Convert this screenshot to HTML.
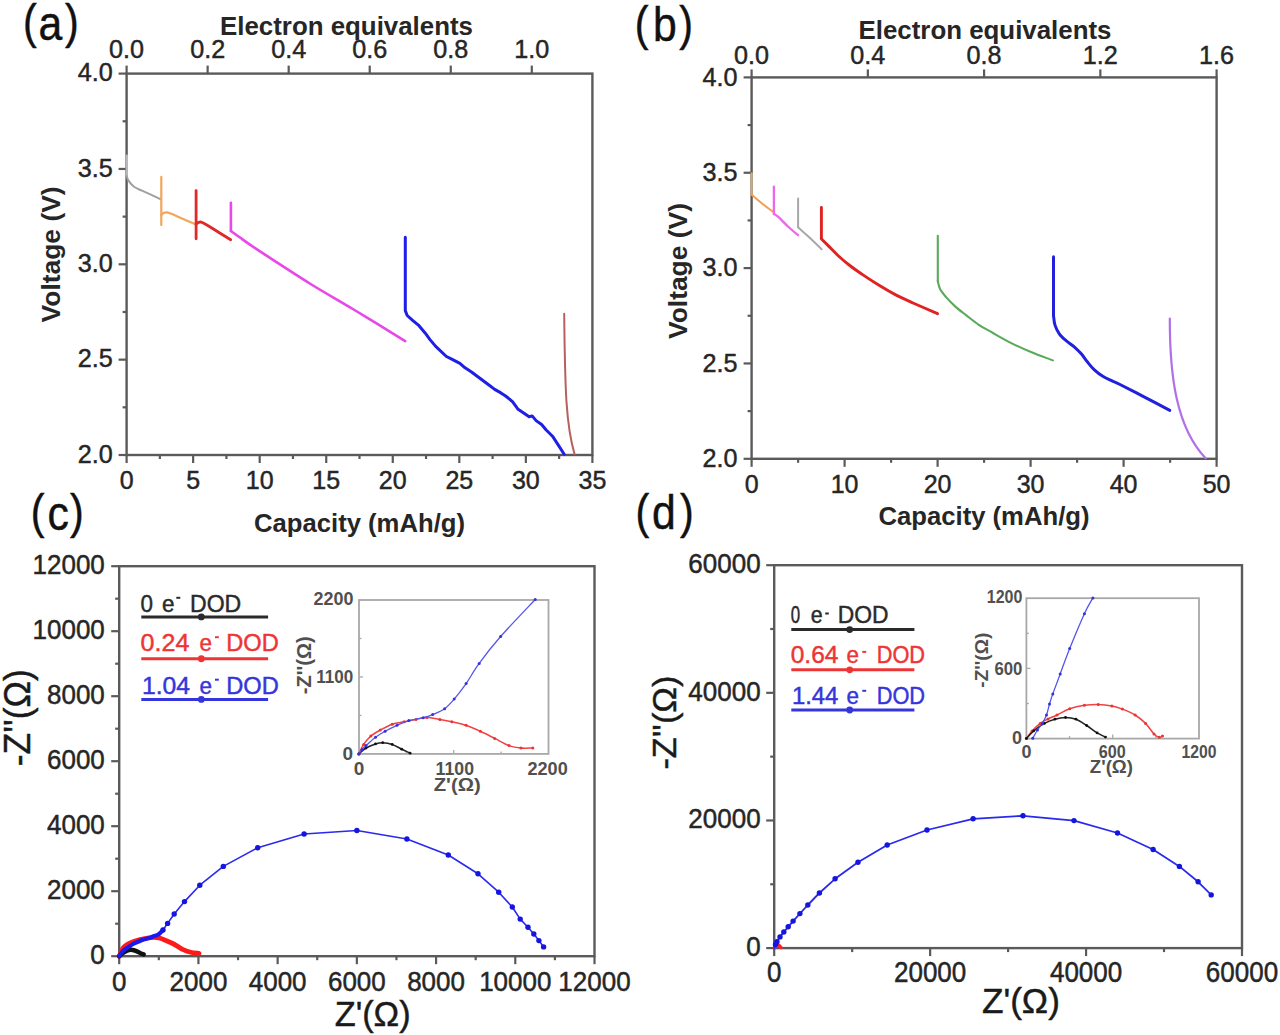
<!DOCTYPE html><html><head><meta charset="utf-8"><title>Figure</title><style>html,body{margin:0;padding:0;background:#fff;overflow:hidden;}svg{display:block;}text{font-family:"Liberation Sans",sans-serif;}</style></head><body>
<svg width="1280" height="1035" viewBox="0 0 1280 1035">
<rect x="0" y="0" width="1280" height="1035" fill="#ffffff"/>
<rect x="126.6" y="73.6" width="465.8" height="381.4" fill="none" stroke="#5a5a5a" stroke-width="2.4"/>
<line x1="118.60" y1="455.00" x2="126.60" y2="455.00" stroke="#5a5a5a" stroke-width="2.2" />
<line x1="122.60" y1="407.32" x2="126.60" y2="407.32" stroke="#5a5a5a" stroke-width="2.2" />
<line x1="118.60" y1="359.65" x2="126.60" y2="359.65" stroke="#5a5a5a" stroke-width="2.2" />
<line x1="122.60" y1="311.98" x2="126.60" y2="311.98" stroke="#5a5a5a" stroke-width="2.2" />
<line x1="118.60" y1="264.30" x2="126.60" y2="264.30" stroke="#5a5a5a" stroke-width="2.2" />
<line x1="122.60" y1="216.62" x2="126.60" y2="216.62" stroke="#5a5a5a" stroke-width="2.2" />
<line x1="118.60" y1="168.95" x2="126.60" y2="168.95" stroke="#5a5a5a" stroke-width="2.2" />
<line x1="122.60" y1="121.28" x2="126.60" y2="121.28" stroke="#5a5a5a" stroke-width="2.2" />
<line x1="118.60" y1="73.60" x2="126.60" y2="73.60" stroke="#5a5a5a" stroke-width="2.2" />
<text x="0" y="0" transform="translate(112.80,81.20)" font-size="25" text-anchor="end" fill="#262626" stroke="#262626" stroke-width="0.45" textLength="35" lengthAdjust="spacingAndGlyphs" >4.0</text>
<text x="0" y="0" transform="translate(112.80,176.55)" font-size="25" text-anchor="end" fill="#262626" stroke="#262626" stroke-width="0.45" textLength="35" lengthAdjust="spacingAndGlyphs" >3.5</text>
<text x="0" y="0" transform="translate(112.80,271.90)" font-size="25" text-anchor="end" fill="#262626" stroke="#262626" stroke-width="0.45" textLength="35" lengthAdjust="spacingAndGlyphs" >3.0</text>
<text x="0" y="0" transform="translate(112.80,367.25)" font-size="25" text-anchor="end" fill="#262626" stroke="#262626" stroke-width="0.45" textLength="35" lengthAdjust="spacingAndGlyphs" >2.5</text>
<text x="0" y="0" transform="translate(112.80,462.60)" font-size="25" text-anchor="end" fill="#262626" stroke="#262626" stroke-width="0.45" textLength="35" lengthAdjust="spacingAndGlyphs" >2.0</text>
<line x1="126.60" y1="455.00" x2="126.60" y2="463.00" stroke="#5a5a5a" stroke-width="2.2" />
<line x1="159.87" y1="455.00" x2="159.87" y2="459.00" stroke="#5a5a5a" stroke-width="2.2" />
<line x1="193.14" y1="455.00" x2="193.14" y2="463.00" stroke="#5a5a5a" stroke-width="2.2" />
<line x1="226.41" y1="455.00" x2="226.41" y2="459.00" stroke="#5a5a5a" stroke-width="2.2" />
<line x1="259.69" y1="455.00" x2="259.69" y2="463.00" stroke="#5a5a5a" stroke-width="2.2" />
<line x1="292.96" y1="455.00" x2="292.96" y2="459.00" stroke="#5a5a5a" stroke-width="2.2" />
<line x1="326.23" y1="455.00" x2="326.23" y2="463.00" stroke="#5a5a5a" stroke-width="2.2" />
<line x1="359.50" y1="455.00" x2="359.50" y2="459.00" stroke="#5a5a5a" stroke-width="2.2" />
<line x1="392.77" y1="455.00" x2="392.77" y2="463.00" stroke="#5a5a5a" stroke-width="2.2" />
<line x1="426.04" y1="455.00" x2="426.04" y2="459.00" stroke="#5a5a5a" stroke-width="2.2" />
<line x1="459.31" y1="455.00" x2="459.31" y2="463.00" stroke="#5a5a5a" stroke-width="2.2" />
<line x1="492.59" y1="455.00" x2="492.59" y2="459.00" stroke="#5a5a5a" stroke-width="2.2" />
<line x1="525.86" y1="455.00" x2="525.86" y2="463.00" stroke="#5a5a5a" stroke-width="2.2" />
<line x1="559.13" y1="455.00" x2="559.13" y2="459.00" stroke="#5a5a5a" stroke-width="2.2" />
<line x1="592.40" y1="455.00" x2="592.40" y2="463.00" stroke="#5a5a5a" stroke-width="2.2" />
<text x="0" y="0" transform="translate(126.60,488.80)" font-size="25" text-anchor="middle" fill="#262626" stroke="#262626" stroke-width="0.45" >0</text>
<text x="0" y="0" transform="translate(193.14,488.80)" font-size="25" text-anchor="middle" fill="#262626" stroke="#262626" stroke-width="0.45" >5</text>
<text x="0" y="0" transform="translate(259.69,488.80)" font-size="25" text-anchor="middle" fill="#262626" stroke="#262626" stroke-width="0.45" >10</text>
<text x="0" y="0" transform="translate(326.23,488.80)" font-size="25" text-anchor="middle" fill="#262626" stroke="#262626" stroke-width="0.45" >15</text>
<text x="0" y="0" transform="translate(392.77,488.80)" font-size="25" text-anchor="middle" fill="#262626" stroke="#262626" stroke-width="0.45" >20</text>
<text x="0" y="0" transform="translate(459.31,488.80)" font-size="25" text-anchor="middle" fill="#262626" stroke="#262626" stroke-width="0.45" >25</text>
<text x="0" y="0" transform="translate(525.86,488.80)" font-size="25" text-anchor="middle" fill="#262626" stroke="#262626" stroke-width="0.45" >30</text>
<text x="0" y="0" transform="translate(592.40,488.80)" font-size="25" text-anchor="middle" fill="#262626" stroke="#262626" stroke-width="0.45" >35</text>
<line x1="126.60" y1="65.60" x2="126.60" y2="73.60" stroke="#5a5a5a" stroke-width="2.2" />
<line x1="207.64" y1="65.60" x2="207.64" y2="73.60" stroke="#5a5a5a" stroke-width="2.2" />
<line x1="288.68" y1="65.60" x2="288.68" y2="73.60" stroke="#5a5a5a" stroke-width="2.2" />
<line x1="369.72" y1="65.60" x2="369.72" y2="73.60" stroke="#5a5a5a" stroke-width="2.2" />
<line x1="450.76" y1="65.60" x2="450.76" y2="73.60" stroke="#5a5a5a" stroke-width="2.2" />
<line x1="531.80" y1="65.60" x2="531.80" y2="73.60" stroke="#5a5a5a" stroke-width="2.2" />
<text x="0" y="0" transform="translate(126.60,57.80)" font-size="25" text-anchor="middle" fill="#262626" stroke="#262626" stroke-width="0.45" textLength="35" lengthAdjust="spacingAndGlyphs" >0.0</text>
<text x="0" y="0" transform="translate(207.64,57.80)" font-size="25" text-anchor="middle" fill="#262626" stroke="#262626" stroke-width="0.45" textLength="35" lengthAdjust="spacingAndGlyphs" >0.2</text>
<text x="0" y="0" transform="translate(288.68,57.80)" font-size="25" text-anchor="middle" fill="#262626" stroke="#262626" stroke-width="0.45" textLength="35" lengthAdjust="spacingAndGlyphs" >0.4</text>
<text x="0" y="0" transform="translate(369.72,57.80)" font-size="25" text-anchor="middle" fill="#262626" stroke="#262626" stroke-width="0.45" textLength="35" lengthAdjust="spacingAndGlyphs" >0.6</text>
<text x="0" y="0" transform="translate(450.76,57.80)" font-size="25" text-anchor="middle" fill="#262626" stroke="#262626" stroke-width="0.45" textLength="35" lengthAdjust="spacingAndGlyphs" >0.8</text>
<text x="0" y="0" transform="translate(531.80,57.80)" font-size="25" text-anchor="middle" fill="#262626" stroke="#262626" stroke-width="0.45" textLength="35" lengthAdjust="spacingAndGlyphs" >1.0</text>
<text x="0" y="0" transform="translate(346.50,34.80)" font-size="25" text-anchor="middle" fill="#262626" font-weight="bold" textLength="253" lengthAdjust="spacingAndGlyphs" >Electron equivalents</text>
<text x="0" y="0" transform="translate(359.50,531.90)" font-size="25" text-anchor="middle" fill="#262626" font-weight="bold" textLength="211" lengthAdjust="spacingAndGlyphs" >Capacity (mAh/g)</text>
<text x="0" y="0" transform="translate(59.80,254.40) rotate(-90)" font-size="26" text-anchor="middle" fill="#262626" font-weight="bold" textLength="136" lengthAdjust="spacingAndGlyphs" >Voltage (V)</text>
<text x="0" y="0" transform="translate(29.85,38.10) scale(0.85,1)" font-size="48.5" text-anchor="middle" fill="#111" stroke="#111" stroke-width="0.45">(</text>
<text x="0" y="0" transform="translate(71.75,38.10) scale(0.85,1)" font-size="48.5" text-anchor="middle" fill="#111" stroke="#111" stroke-width="0.45">)</text>
<text x="0" y="0" transform="translate(50.25,40.10) scale(0.88,1)" font-size="48.5" text-anchor="middle" fill="#111" stroke="#111" stroke-width="0.45">a</text>
<path d="M126.8,155.6 L126.8,176" fill="none" stroke="#b8b8b8" stroke-width="2.4" stroke-linejoin="round" stroke-linecap="round" />
<path d="M126.8,176.0 C127.1,176.8 127.3,178.8 128.5,180.6 C129.7,182.4 131.7,185.0 134.0,186.7 C136.3,188.4 139.2,189.3 142.1,190.7 C145.0,192.0 148.3,193.3 151.5,194.8 C154.7,196.3 159.5,198.8 161.1,199.6" fill="none" stroke="#a0a0a0" stroke-width="2" stroke-linejoin="round" stroke-linecap="round" />
<path d="M161.3,176.9 L161.3,225.1" fill="none" stroke="#f2a65a" stroke-width="2.2" stroke-linejoin="round" stroke-linecap="round" />
<path d="M161.3,215.0 C161.7,214.7 162.6,213.4 163.5,213.0 C164.4,212.6 165.3,212.2 166.7,212.4 C168.1,212.6 169.4,213.0 172.0,214.0 C174.6,215.0 178.2,216.8 182.0,218.5 C185.8,220.2 192.9,223.2 195.1,224.1" fill="none" stroke="#f2a65a" stroke-width="2.2" stroke-linejoin="round" stroke-linecap="round" />
<path d="M196.1,190.6 L196.1,238.8" fill="none" stroke="#e02828" stroke-width="2.8" stroke-linejoin="round" stroke-linecap="round" />
<path d="M196.1,224.0 C196.5,223.7 197.7,222.7 198.5,222.4 C199.3,222.1 199.9,221.8 201.2,222.1 C202.4,222.4 203.7,223.2 206.0,224.5 C208.3,225.8 210.9,227.4 215.0,230.0 C219.1,232.6 228.1,238.2 230.7,239.8" fill="none" stroke="#e02828" stroke-width="2.8" stroke-linejoin="round" stroke-linecap="round" />
<path d="M230.9,202.8 L230.9,231" fill="none" stroke="#e848e8" stroke-width="2.6" stroke-linejoin="round" stroke-linecap="round" />
<path d="M230.9,231.0 C232.4,232.1 237.1,235.4 240.0,237.5 C242.9,239.6 243.6,240.3 248.1,243.4 C252.6,246.5 256.5,249.1 266.9,255.9 C277.3,262.7 296.3,275.1 310.6,284.0 C324.9,292.9 337.0,299.5 352.8,309.0 C368.6,318.5 396.5,335.8 405.2,341.1" fill="none" stroke="#e848e8" stroke-width="2.6" stroke-linejoin="round" stroke-linecap="round" />
<polyline points="405.3,237.2 405.3,310.6 407.2,315.5 412.6,320.3 418.4,325.1 425.1,332.9 430.0,339.6 435.7,346.4 446.4,356.5 452.2,359.4 459.9,363.3 464.7,367.6 471.5,372.0 479.2,377.8 488.9,385.0 494.7,389.4 500.9,392.9 505.6,396.0 509.5,399.1 512.7,401.9 518.1,409.3 524.4,413.6 529.1,416.7 532.2,415.9 536.1,420.6 541.6,424.5 546.2,430.0 552.5,436.2 557.2,443.3 564.2,454.2" fill="none" stroke="#1e1ee6" stroke-width="3" stroke-linejoin="round" stroke-linecap="round" />
<path d="M564.2,313.8 C565.0,390 566.0,425 574.6,454.2" fill="none" stroke="#b86060" stroke-width="2" stroke-linejoin="round" stroke-linecap="round" />
<rect x="751.6" y="77.4" width="465.0" height="381.4" fill="none" stroke="#5a5a5a" stroke-width="2.4"/>
<line x1="743.60" y1="458.80" x2="751.60" y2="458.80" stroke="#5a5a5a" stroke-width="2.2" />
<line x1="747.60" y1="411.12" x2="751.60" y2="411.12" stroke="#5a5a5a" stroke-width="2.2" />
<line x1="743.60" y1="363.45" x2="751.60" y2="363.45" stroke="#5a5a5a" stroke-width="2.2" />
<line x1="747.60" y1="315.78" x2="751.60" y2="315.78" stroke="#5a5a5a" stroke-width="2.2" />
<line x1="743.60" y1="268.10" x2="751.60" y2="268.10" stroke="#5a5a5a" stroke-width="2.2" />
<line x1="747.60" y1="220.43" x2="751.60" y2="220.43" stroke="#5a5a5a" stroke-width="2.2" />
<line x1="743.60" y1="172.75" x2="751.60" y2="172.75" stroke="#5a5a5a" stroke-width="2.2" />
<line x1="747.60" y1="125.08" x2="751.60" y2="125.08" stroke="#5a5a5a" stroke-width="2.2" />
<line x1="743.60" y1="77.40" x2="751.60" y2="77.40" stroke="#5a5a5a" stroke-width="2.2" />
<text x="0" y="0" transform="translate(737.50,85.60)" font-size="25" text-anchor="end" fill="#262626" stroke="#262626" stroke-width="0.45" textLength="35" lengthAdjust="spacingAndGlyphs" >4.0</text>
<text x="0" y="0" transform="translate(737.50,180.95)" font-size="25" text-anchor="end" fill="#262626" stroke="#262626" stroke-width="0.45" textLength="35" lengthAdjust="spacingAndGlyphs" >3.5</text>
<text x="0" y="0" transform="translate(737.50,276.30)" font-size="25" text-anchor="end" fill="#262626" stroke="#262626" stroke-width="0.45" textLength="35" lengthAdjust="spacingAndGlyphs" >3.0</text>
<text x="0" y="0" transform="translate(737.50,371.65)" font-size="25" text-anchor="end" fill="#262626" stroke="#262626" stroke-width="0.45" textLength="35" lengthAdjust="spacingAndGlyphs" >2.5</text>
<text x="0" y="0" transform="translate(737.50,467.00)" font-size="25" text-anchor="end" fill="#262626" stroke="#262626" stroke-width="0.45" textLength="35" lengthAdjust="spacingAndGlyphs" >2.0</text>
<line x1="751.60" y1="458.80" x2="751.60" y2="466.80" stroke="#5a5a5a" stroke-width="2.2" />
<line x1="798.10" y1="458.80" x2="798.10" y2="462.80" stroke="#5a5a5a" stroke-width="2.2" />
<line x1="844.60" y1="458.80" x2="844.60" y2="466.80" stroke="#5a5a5a" stroke-width="2.2" />
<line x1="891.10" y1="458.80" x2="891.10" y2="462.80" stroke="#5a5a5a" stroke-width="2.2" />
<line x1="937.60" y1="458.80" x2="937.60" y2="466.80" stroke="#5a5a5a" stroke-width="2.2" />
<line x1="984.10" y1="458.80" x2="984.10" y2="462.80" stroke="#5a5a5a" stroke-width="2.2" />
<line x1="1030.60" y1="458.80" x2="1030.60" y2="466.80" stroke="#5a5a5a" stroke-width="2.2" />
<line x1="1077.10" y1="458.80" x2="1077.10" y2="462.80" stroke="#5a5a5a" stroke-width="2.2" />
<line x1="1123.60" y1="458.80" x2="1123.60" y2="466.80" stroke="#5a5a5a" stroke-width="2.2" />
<line x1="1170.10" y1="458.80" x2="1170.10" y2="462.80" stroke="#5a5a5a" stroke-width="2.2" />
<line x1="1216.60" y1="458.80" x2="1216.60" y2="466.80" stroke="#5a5a5a" stroke-width="2.2" />
<text x="0" y="0" transform="translate(751.60,492.50)" font-size="25" text-anchor="middle" fill="#262626" stroke="#262626" stroke-width="0.45" >0</text>
<text x="0" y="0" transform="translate(844.60,492.50)" font-size="25" text-anchor="middle" fill="#262626" stroke="#262626" stroke-width="0.45" >10</text>
<text x="0" y="0" transform="translate(937.60,492.50)" font-size="25" text-anchor="middle" fill="#262626" stroke="#262626" stroke-width="0.45" >20</text>
<text x="0" y="0" transform="translate(1030.60,492.50)" font-size="25" text-anchor="middle" fill="#262626" stroke="#262626" stroke-width="0.45" >30</text>
<text x="0" y="0" transform="translate(1123.60,492.50)" font-size="25" text-anchor="middle" fill="#262626" stroke="#262626" stroke-width="0.45" >40</text>
<text x="0" y="0" transform="translate(1216.60,492.50)" font-size="25" text-anchor="middle" fill="#262626" stroke="#262626" stroke-width="0.45" >50</text>
<line x1="751.60" y1="69.40" x2="751.60" y2="77.40" stroke="#5a5a5a" stroke-width="2.2" />
<line x1="867.85" y1="69.40" x2="867.85" y2="77.40" stroke="#5a5a5a" stroke-width="2.2" />
<line x1="984.10" y1="69.40" x2="984.10" y2="77.40" stroke="#5a5a5a" stroke-width="2.2" />
<line x1="1100.35" y1="69.40" x2="1100.35" y2="77.40" stroke="#5a5a5a" stroke-width="2.2" />
<line x1="1216.60" y1="69.40" x2="1216.60" y2="77.40" stroke="#5a5a5a" stroke-width="2.2" />
<text x="0" y="0" transform="translate(751.60,63.50)" font-size="25" text-anchor="middle" fill="#262626" stroke="#262626" stroke-width="0.45" textLength="35" lengthAdjust="spacingAndGlyphs" >0.0</text>
<text x="0" y="0" transform="translate(867.85,63.50)" font-size="25" text-anchor="middle" fill="#262626" stroke="#262626" stroke-width="0.45" textLength="35" lengthAdjust="spacingAndGlyphs" >0.4</text>
<text x="0" y="0" transform="translate(984.10,63.50)" font-size="25" text-anchor="middle" fill="#262626" stroke="#262626" stroke-width="0.45" textLength="35" lengthAdjust="spacingAndGlyphs" >0.8</text>
<text x="0" y="0" transform="translate(1100.35,63.50)" font-size="25" text-anchor="middle" fill="#262626" stroke="#262626" stroke-width="0.45" textLength="35" lengthAdjust="spacingAndGlyphs" >1.2</text>
<text x="0" y="0" transform="translate(1216.60,63.50)" font-size="25" text-anchor="middle" fill="#262626" stroke="#262626" stroke-width="0.45" textLength="35" lengthAdjust="spacingAndGlyphs" >1.6</text>
<text x="0" y="0" transform="translate(985.00,38.50)" font-size="25" text-anchor="middle" fill="#262626" font-weight="bold" textLength="253" lengthAdjust="spacingAndGlyphs" >Electron equivalents</text>
<text x="0" y="0" transform="translate(984.00,524.50)" font-size="25" text-anchor="middle" fill="#262626" font-weight="bold" textLength="211" lengthAdjust="spacingAndGlyphs" >Capacity (mAh/g)</text>
<text x="0" y="0" transform="translate(687.20,271.00) rotate(-90)" font-size="26" text-anchor="middle" fill="#262626" font-weight="bold" textLength="136" lengthAdjust="spacingAndGlyphs" >Voltage (V)</text>
<text x="0" y="0" transform="translate(641.70,40.40) scale(0.85,1)" font-size="48.5" text-anchor="middle" fill="#111" stroke="#111" stroke-width="0.45">(</text>
<text x="0" y="0" transform="translate(686.20,40.40) scale(0.85,1)" font-size="48.5" text-anchor="middle" fill="#111" stroke="#111" stroke-width="0.45">)</text>
<text x="0" y="0" transform="translate(664.95,41.40) scale(0.88,1)" font-size="48.5" text-anchor="middle" fill="#111" stroke="#111" stroke-width="0.45">b</text>
<path d="M751.6,173.4 L751.6,194.5" fill="none" stroke="#c8ab88" stroke-width="2.4" stroke-linejoin="round" stroke-linecap="round" />
<path d="M751.6,194.5 C753.3,196.0 758.3,200.5 762.0,203.5 C765.7,206.5 771.9,211.0 773.9,212.5" fill="none" stroke="#f0a050" stroke-width="2" stroke-linejoin="round" stroke-linecap="round" />
<path d="M773.9,186.7 L773.9,214" fill="none" stroke="#ee66ee" stroke-width="2.3" stroke-linejoin="round" stroke-linecap="round" />
<path d="M773.9,214.0 C774.7,214.5 776.2,215.1 778.6,217.2 C781.0,219.3 784.8,223.5 788.0,226.5 C791.2,229.5 796.4,233.8 798.1,235.2" fill="none" stroke="#ee66ee" stroke-width="2.3" stroke-linejoin="round" stroke-linecap="round" />
<path d="M798.1,198.4 L798.1,227.3" fill="none" stroke="#a8a8a8" stroke-width="2" stroke-linejoin="round" stroke-linecap="round" />
<path d="M798.1,227.3 C800.1,229.1 806.1,234.3 810.0,238.0 C813.9,241.7 819.7,247.3 821.6,249.2" fill="none" stroke="#a8a8a8" stroke-width="2" stroke-linejoin="round" stroke-linecap="round" />
<path d="M821.4,207.5 L821.4,238.5" fill="none" stroke="#e02222" stroke-width="2.9" stroke-linejoin="round" stroke-linecap="round" />
<path d="M821.4,238.5 C821.6,238.8 821.2,238.7 822.5,240.0 C823.8,241.3 826.3,243.8 828.9,246.4 C831.5,249.0 834.7,252.5 838.2,255.7 C841.7,258.9 845.5,262.2 849.8,265.5 C854.0,268.8 858.7,272.0 863.7,275.4 C868.7,278.8 874.5,282.5 879.9,285.8 C885.3,289.1 890.6,292.2 896.2,295.1 C901.8,298.0 906.7,300.1 913.6,303.2 C920.5,306.3 933.5,311.9 937.5,313.7" fill="none" stroke="#e02222" stroke-width="2.9" stroke-linejoin="round" stroke-linecap="round" />
<path d="M937.8,235.8 L937.8,281.2" fill="none" stroke="#5aaa5a" stroke-width="2.1" stroke-linejoin="round" stroke-linecap="round" />
<path d="M937.8,281.2 C938.2,282.6 938.8,286.6 940.2,289.3 C941.6,292.0 943.8,294.5 946.3,297.4 C948.8,300.3 952.2,303.7 955.4,306.6 C958.6,309.5 961.6,311.7 965.5,314.7 C969.4,317.7 974.2,321.8 978.8,324.8 C983.4,327.9 987.6,329.9 993.0,333.0 C998.4,336.1 1004.9,339.9 1011.3,343.1 C1017.7,346.3 1024.7,349.4 1031.6,352.3 C1038.5,355.2 1049.4,359.0 1052.9,360.4" fill="none" stroke="#5aaa5a" stroke-width="2.1" stroke-linejoin="round" stroke-linecap="round" />
<path d="M1053.5,256.7 L1053.5,315.5" fill="none" stroke="#2020dd" stroke-width="3" stroke-linejoin="round" stroke-linecap="round" />
<path d="M1053.5,315.5 C1053.8,317.1 1054.0,322.1 1055.0,325.1 C1056.0,328.2 1057.5,331.2 1059.3,333.8 C1061.1,336.4 1063.5,338.4 1066.1,340.6 C1068.7,342.9 1072.2,345.1 1074.8,347.3 C1077.4,349.6 1079.4,351.7 1081.5,354.1 C1083.6,356.5 1085.2,359.2 1087.3,361.8 C1089.4,364.4 1091.5,367.2 1094.1,369.6 C1096.7,372.0 1099.7,374.4 1102.8,376.3 C1105.9,378.2 1109.6,379.8 1112.5,381.2 C1115.4,382.6 1114.6,381.8 1120.0,384.5 C1125.4,387.2 1136.7,393.0 1145.0,397.3 C1153.3,401.6 1165.7,408.2 1169.8,410.4" fill="none" stroke="#2020dd" stroke-width="3" stroke-linejoin="round" stroke-linecap="round" />
<path d="M1169.8,318.5 C1169.7,376.5 1176.4,427.5 1205.6,458.3" fill="none" stroke="#b070e8" stroke-width="2.2" stroke-linejoin="round" stroke-linecap="round" />
<rect x="119.2" y="566.2" width="475.3" height="390.0" fill="none" stroke="#5a5a5a" stroke-width="2.4"/>
<line x1="111.20" y1="956.20" x2="119.20" y2="956.20" stroke="#5a5a5a" stroke-width="2.2" />
<line x1="119.20" y1="956.20" x2="119.20" y2="964.20" stroke="#5a5a5a" stroke-width="2.2" />
<line x1="115.20" y1="923.70" x2="119.20" y2="923.70" stroke="#5a5a5a" stroke-width="2.2" />
<line x1="158.81" y1="956.20" x2="158.81" y2="960.20" stroke="#5a5a5a" stroke-width="2.2" />
<line x1="111.20" y1="891.20" x2="119.20" y2="891.20" stroke="#5a5a5a" stroke-width="2.2" />
<line x1="198.42" y1="956.20" x2="198.42" y2="964.20" stroke="#5a5a5a" stroke-width="2.2" />
<line x1="115.20" y1="858.70" x2="119.20" y2="858.70" stroke="#5a5a5a" stroke-width="2.2" />
<line x1="238.03" y1="956.20" x2="238.03" y2="960.20" stroke="#5a5a5a" stroke-width="2.2" />
<line x1="111.20" y1="826.20" x2="119.20" y2="826.20" stroke="#5a5a5a" stroke-width="2.2" />
<line x1="277.63" y1="956.20" x2="277.63" y2="964.20" stroke="#5a5a5a" stroke-width="2.2" />
<line x1="115.20" y1="793.70" x2="119.20" y2="793.70" stroke="#5a5a5a" stroke-width="2.2" />
<line x1="317.24" y1="956.20" x2="317.24" y2="960.20" stroke="#5a5a5a" stroke-width="2.2" />
<line x1="111.20" y1="761.20" x2="119.20" y2="761.20" stroke="#5a5a5a" stroke-width="2.2" />
<line x1="356.85" y1="956.20" x2="356.85" y2="964.20" stroke="#5a5a5a" stroke-width="2.2" />
<line x1="115.20" y1="728.70" x2="119.20" y2="728.70" stroke="#5a5a5a" stroke-width="2.2" />
<line x1="396.46" y1="956.20" x2="396.46" y2="960.20" stroke="#5a5a5a" stroke-width="2.2" />
<line x1="111.20" y1="696.20" x2="119.20" y2="696.20" stroke="#5a5a5a" stroke-width="2.2" />
<line x1="436.07" y1="956.20" x2="436.07" y2="964.20" stroke="#5a5a5a" stroke-width="2.2" />
<line x1="115.20" y1="663.70" x2="119.20" y2="663.70" stroke="#5a5a5a" stroke-width="2.2" />
<line x1="475.68" y1="956.20" x2="475.68" y2="960.20" stroke="#5a5a5a" stroke-width="2.2" />
<line x1="111.20" y1="631.20" x2="119.20" y2="631.20" stroke="#5a5a5a" stroke-width="2.2" />
<line x1="515.28" y1="956.20" x2="515.28" y2="964.20" stroke="#5a5a5a" stroke-width="2.2" />
<line x1="115.20" y1="598.70" x2="119.20" y2="598.70" stroke="#5a5a5a" stroke-width="2.2" />
<line x1="554.89" y1="956.20" x2="554.89" y2="960.20" stroke="#5a5a5a" stroke-width="2.2" />
<line x1="111.20" y1="566.20" x2="119.20" y2="566.20" stroke="#5a5a5a" stroke-width="2.2" />
<line x1="594.50" y1="956.20" x2="594.50" y2="964.20" stroke="#5a5a5a" stroke-width="2.2" />
<text x="0" y="0" transform="translate(104.80,964.20) scale(1,1.08)" font-size="26" text-anchor="end" fill="#262626" stroke="#262626" stroke-width="0.45" >0</text>
<text x="0" y="0" transform="translate(119.20,990.80) scale(1,1.08)" font-size="26" text-anchor="middle" fill="#262626" stroke="#262626" stroke-width="0.45" >0</text>
<text x="0" y="0" transform="translate(104.80,899.20) scale(1,1.08)" font-size="26" text-anchor="end" fill="#262626" stroke="#262626" stroke-width="0.45" >2000</text>
<text x="0" y="0" transform="translate(198.42,990.80) scale(1,1.08)" font-size="26" text-anchor="middle" fill="#262626" stroke="#262626" stroke-width="0.45" >2000</text>
<text x="0" y="0" transform="translate(104.80,834.20) scale(1,1.08)" font-size="26" text-anchor="end" fill="#262626" stroke="#262626" stroke-width="0.45" >4000</text>
<text x="0" y="0" transform="translate(277.63,990.80) scale(1,1.08)" font-size="26" text-anchor="middle" fill="#262626" stroke="#262626" stroke-width="0.45" >4000</text>
<text x="0" y="0" transform="translate(104.80,769.20) scale(1,1.08)" font-size="26" text-anchor="end" fill="#262626" stroke="#262626" stroke-width="0.45" >6000</text>
<text x="0" y="0" transform="translate(356.85,990.80) scale(1,1.08)" font-size="26" text-anchor="middle" fill="#262626" stroke="#262626" stroke-width="0.45" >6000</text>
<text x="0" y="0" transform="translate(104.80,704.20) scale(1,1.08)" font-size="26" text-anchor="end" fill="#262626" stroke="#262626" stroke-width="0.45" >8000</text>
<text x="0" y="0" transform="translate(436.07,990.80) scale(1,1.08)" font-size="26" text-anchor="middle" fill="#262626" stroke="#262626" stroke-width="0.45" >8000</text>
<text x="0" y="0" transform="translate(104.80,639.20) scale(1,1.08)" font-size="26" text-anchor="end" fill="#262626" stroke="#262626" stroke-width="0.45" >10000</text>
<text x="0" y="0" transform="translate(515.28,990.80) scale(1,1.08)" font-size="26" text-anchor="middle" fill="#262626" stroke="#262626" stroke-width="0.45" >10000</text>
<text x="0" y="0" transform="translate(104.80,574.20) scale(1,1.08)" font-size="26" text-anchor="end" fill="#262626" stroke="#262626" stroke-width="0.45" >12000</text>
<text x="0" y="0" transform="translate(594.50,990.80) scale(1,1.08)" font-size="26" text-anchor="middle" fill="#262626" stroke="#262626" stroke-width="0.45" >12000</text>
<text x="0" y="0" transform="translate(372.70,1025.60)" font-size="35" text-anchor="middle" fill="#1a1a1a" stroke="#1a1a1a" stroke-width="0.45" textLength="76" lengthAdjust="spacingAndGlyphs" >Z'(Ω)</text>
<text x="0" y="0" transform="translate(29.80,717.70) rotate(-90)" font-size="36" text-anchor="middle" fill="#1a1a1a" stroke="#1a1a1a" stroke-width="0.45" textLength="97" lengthAdjust="spacingAndGlyphs" >-Z''(Ω)</text>
<text x="0" y="0" transform="translate(37.70,528.20) scale(0.85,1)" font-size="48.5" text-anchor="middle" fill="#111" stroke="#111" stroke-width="0.45">(</text>
<text x="0" y="0" transform="translate(76.80,528.20) scale(0.85,1)" font-size="48.5" text-anchor="middle" fill="#111" stroke="#111" stroke-width="0.45">)</text>
<text x="0" y="0" transform="translate(58.25,530.00) scale(0.88,1)" font-size="48.5" text-anchor="middle" fill="#111" stroke="#111" stroke-width="0.45">c</text>
<text x="0" y="0" transform="translate(140.60,611.90)" font-size="24" text-anchor="start" fill="#2a2a2a" stroke="#2a2a2a" stroke-width="0.45" textLength="12.5" lengthAdjust="spacingAndGlyphs" >0</text>
<text x="0" y="0" transform="translate(161.90,611.90)" font-size="24" text-anchor="start" fill="#2a2a2a" stroke="#2a2a2a" stroke-width="0.45" textLength="12.5" lengthAdjust="spacingAndGlyphs" >e</text>
<line x1="176.30" y1="597.80" x2="180.30" y2="597.80" stroke="#2a2a2a" stroke-width="2.0" />
<text x="0" y="0" transform="translate(190.00,611.90)" font-size="24" text-anchor="start" fill="#2a2a2a" stroke="#2a2a2a" stroke-width="0.45" textLength="51.2" lengthAdjust="spacingAndGlyphs" >DOD</text>
<line x1="141.30" y1="616.90" x2="268.10" y2="616.90" stroke="#2a2a2a" stroke-width="3" />
<circle cx="201.3" cy="616.9" r="3.4" fill="#2a2a2a"/>
<text x="0" y="0" transform="translate(140.60,651.25)" font-size="24" text-anchor="start" fill="#ee3535" stroke="#ee3535" stroke-width="0.45" textLength="48.8" lengthAdjust="spacingAndGlyphs" >0.24</text>
<text x="0" y="0" transform="translate(199.40,651.25)" font-size="24" text-anchor="start" fill="#ee3535" stroke="#ee3535" stroke-width="0.45" textLength="12.5" lengthAdjust="spacingAndGlyphs" >e</text>
<line x1="215.00" y1="637.20" x2="218.80" y2="637.20" stroke="#ee3535" stroke-width="2.0" />
<text x="0" y="0" transform="translate(226.25,651.25)" font-size="24" text-anchor="start" fill="#ee3535" stroke="#ee3535" stroke-width="0.45" textLength="52.5" lengthAdjust="spacingAndGlyphs" >DOD</text>
<line x1="141.30" y1="658.75" x2="268.10" y2="658.75" stroke="#ee3535" stroke-width="3" />
<circle cx="201.3" cy="658.75" r="3.4" fill="#ee3535"/>
<text x="0" y="0" transform="translate(141.90,693.75)" font-size="24" text-anchor="start" fill="#3535dd" stroke="#3535dd" stroke-width="0.45" textLength="48.1" lengthAdjust="spacingAndGlyphs" >1.04</text>
<text x="0" y="0" transform="translate(199.40,693.75)" font-size="24" text-anchor="start" fill="#3535dd" stroke="#3535dd" stroke-width="0.45" textLength="12.5" lengthAdjust="spacingAndGlyphs" >e</text>
<line x1="215.00" y1="679.70" x2="218.80" y2="679.70" stroke="#3535dd" stroke-width="2.0" />
<text x="0" y="0" transform="translate(226.25,693.75)" font-size="24" text-anchor="start" fill="#3535dd" stroke="#3535dd" stroke-width="0.45" textLength="52.5" lengthAdjust="spacingAndGlyphs" >DOD</text>
<line x1="141.30" y1="699.40" x2="268.10" y2="699.40" stroke="#3535dd" stroke-width="3" />
<circle cx="201.3" cy="699.4" r="3.4" fill="#3535dd"/>
<path d="M119.2,956.2 C120.0,954.7 121.5,949.4 124.0,946.9 C126.5,944.4 130.5,942.7 134.4,941.2 C138.3,939.7 143.8,938.6 147.5,938.0 C151.2,937.4 154.2,937.3 156.9,937.5 C159.6,937.7 160.6,938.3 163.4,939.4 C166.2,940.5 170.4,942.3 173.7,944.0 C177.0,945.7 180.1,948.3 183.1,949.7 C186.1,951.1 188.8,951.9 191.5,952.5 C194.2,953.1 197.8,953.2 199.0,953.4" fill="none" stroke="#ff1a1a" stroke-width="4.8" stroke-linejoin="round" stroke-linecap="round" />
<path d="M119.2,956.2 C120.0,955.5 122.2,953.2 124.0,952.2 C125.8,951.2 128.2,950.2 130.0,949.9 C131.8,949.6 133.3,950.1 135.0,950.6 C136.7,951.1 138.6,952.4 140.0,953.0 C141.4,953.6 143.1,954.2 143.7,954.4" fill="none" stroke="#111111" stroke-width="4.5" stroke-linejoin="round" stroke-linecap="round" />
<path d="M119.2,956.2 C119.8,955.3 121.4,952.5 123.0,951.0 C124.6,949.5 127.0,948.1 128.7,946.9 C130.4,945.7 131.4,944.9 133.0,944.0 C134.6,943.1 136.4,942.4 138.1,941.7 C139.8,941.0 141.1,940.3 143.0,939.7 C144.9,939.1 147.7,938.5 149.4,938.0 C151.1,937.5 151.6,937.0 153.0,936.5 C154.4,936.0 156.6,935.4 157.8,934.7 C159.1,934.1 159.6,933.4 160.5,932.6 C161.4,931.8 162.6,930.4 163.0,930.0" fill="none" stroke="#1a1aee" stroke-width="4.2" stroke-linejoin="round" stroke-linecap="round" />
<polyline points="163.0,930.0 167.6,923.4 174.2,914.0 184.5,901.6 199.8,885.2 223.3,866.4 257.7,847.7 304.1,834.0 356.9,830.5 406.9,839.0 448.3,855.0 478.0,873.8 498.7,892.2 512.3,907.0 520.2,919.1 528.0,927.3 533.8,934.0 538.9,940.6 543.6,946.9" fill="none" stroke="#2a2aee" stroke-width="1.6" stroke-linejoin="round" stroke-linecap="round" />
<g fill="#1515e0"><circle cx="163.0" cy="930.0" r="2.7"/><circle cx="167.6" cy="923.4" r="2.7"/><circle cx="174.2" cy="914.0" r="2.7"/><circle cx="184.5" cy="901.6" r="2.7"/><circle cx="199.8" cy="885.2" r="2.7"/><circle cx="223.3" cy="866.4" r="2.7"/><circle cx="257.7" cy="847.7" r="2.7"/><circle cx="304.1" cy="834.0" r="2.7"/><circle cx="356.9" cy="830.5" r="2.7"/><circle cx="406.9" cy="839.0" r="2.7"/><circle cx="448.3" cy="855.0" r="2.7"/><circle cx="478.0" cy="873.8" r="2.7"/><circle cx="498.7" cy="892.2" r="2.7"/><circle cx="512.3" cy="907.0" r="2.7"/><circle cx="520.2" cy="919.1" r="2.7"/><circle cx="528.0" cy="927.3" r="2.7"/><circle cx="533.8" cy="934.0" r="2.7"/><circle cx="538.9" cy="940.6" r="2.7"/><circle cx="543.6" cy="946.9" r="2.7"/></g>
<rect x="359.0" y="600.0" width="189.5" height="153.9" fill="none" stroke="#a8a8a8" stroke-width="1.8"/>
<line x1="359.00" y1="715.42" x2="361.50" y2="715.42" stroke="#a8a8a8" stroke-width="1.3" />
<line x1="406.38" y1="753.90" x2="406.38" y2="751.40" stroke="#a8a8a8" stroke-width="1.3" />
<line x1="359.00" y1="676.95" x2="363.00" y2="676.95" stroke="#a8a8a8" stroke-width="1.3" />
<line x1="453.75" y1="753.90" x2="453.75" y2="749.90" stroke="#a8a8a8" stroke-width="1.3" />
<line x1="359.00" y1="638.48" x2="361.50" y2="638.48" stroke="#a8a8a8" stroke-width="1.3" />
<line x1="501.12" y1="753.90" x2="501.12" y2="751.40" stroke="#a8a8a8" stroke-width="1.3" />
<text x="0" y="0" transform="translate(353.40,605.30)" font-size="19" text-anchor="end" fill="#505050" font-weight="bold" textLength="40" lengthAdjust="spacingAndGlyphs" >2200</text>
<text x="0" y="0" transform="translate(353.20,682.60)" font-size="19" text-anchor="end" fill="#505050" font-weight="bold" textLength="37" lengthAdjust="spacingAndGlyphs" >1100</text>
<text x="0" y="0" transform="translate(353.20,759.80)" font-size="19" text-anchor="end" fill="#505050" font-weight="bold" >0</text>
<text x="0" y="0" transform="translate(359.00,774.60)" font-size="19" text-anchor="middle" fill="#505050" font-weight="bold" >0</text>
<text x="0" y="0" transform="translate(454.80,775.30)" font-size="19" text-anchor="middle" fill="#505050" font-weight="bold" textLength="38.4" lengthAdjust="spacingAndGlyphs" >1100</text>
<text x="0" y="0" transform="translate(547.60,775.30)" font-size="19" text-anchor="middle" fill="#505050" font-weight="bold" textLength="40.3" lengthAdjust="spacingAndGlyphs" >2200</text>
<text x="0" y="0" transform="translate(457.20,791.30)" font-size="19" text-anchor="middle" fill="#505050" font-weight="bold" textLength="47" lengthAdjust="spacingAndGlyphs" >Z'(Ω)</text>
<text x="0" y="0" transform="translate(310.80,665.20) rotate(-90)" font-size="20" text-anchor="middle" fill="#505050" font-weight="bold" textLength="58" lengthAdjust="spacingAndGlyphs" >-Z''(Ω)</text>
<path d="M358.9,753.9 C359.7,752.3 361.6,747.4 363.6,744.4 C365.6,741.4 368.0,738.5 370.8,736.1 C373.6,733.7 376.7,732.1 380.3,730.1 C383.9,728.1 388.2,725.6 392.2,724.2 C396.2,722.8 400.1,722.6 404.1,721.8 C408.1,721.0 412.2,720.1 416.0,719.4 C419.8,718.7 422.8,717.5 426.8,717.5 C430.8,717.5 435.7,718.7 439.9,719.4 C444.1,720.1 447.4,720.8 451.8,721.8 C456.2,722.8 461.3,723.7 466.1,725.3 C470.9,726.9 475.6,729.1 480.4,731.3 C485.2,733.5 489.9,736.0 494.7,738.4 C499.5,740.8 504.6,744.0 509.0,745.6 C513.4,747.2 516.9,747.6 520.9,748.0 C524.9,748.4 530.8,748.0 532.8,748.0" fill="none" stroke="#ee4444" stroke-width="1.5" stroke-linejoin="round" stroke-linecap="round" />
<g fill="#ee3333"><circle cx="358.9" cy="753.9" r="1.5"/><circle cx="363.6" cy="744.4" r="1.5"/><circle cx="370.8" cy="736.1" r="1.5"/><circle cx="380.3" cy="730.1" r="1.5"/><circle cx="392.2" cy="724.2" r="1.5"/><circle cx="404.1" cy="721.8" r="1.5"/><circle cx="416.0" cy="719.4" r="1.5"/><circle cx="426.8" cy="717.5" r="1.5"/><circle cx="439.9" cy="719.4" r="1.5"/><circle cx="451.8" cy="721.8" r="1.5"/><circle cx="466.1" cy="725.3" r="1.5"/><circle cx="480.4" cy="731.3" r="1.5"/><circle cx="494.7" cy="738.4" r="1.5"/><circle cx="509.0" cy="745.6" r="1.5"/><circle cx="520.9" cy="748.0" r="1.5"/><circle cx="532.8" cy="748.0" r="1.5"/></g>
<path d="M358.9,753.9 C360.1,752.9 363.2,749.7 366.0,748.0 C368.8,746.3 372.7,744.8 375.5,743.9 C378.3,743.0 379.9,742.6 382.7,742.7 C385.5,742.8 389.0,743.3 392.2,744.4 C395.4,745.5 398.7,747.7 401.7,749.2 C404.7,750.7 408.7,752.5 410.1,753.2" fill="none" stroke="#222" stroke-width="1.6" stroke-linejoin="round" stroke-linecap="round" />
<g fill="#111"><circle cx="358.9" cy="753.9" r="1.4"/><circle cx="366.0" cy="748.0" r="1.4"/><circle cx="375.5" cy="743.9" r="1.4"/><circle cx="382.7" cy="742.7" r="1.4"/><circle cx="392.2" cy="744.4" r="1.4"/><circle cx="401.7" cy="749.2" r="1.4"/><circle cx="410.1" cy="753.2" r="1.4"/></g>
<path d="M358.9,753.9 C359.4,753.2 360.8,750.9 362.0,749.5 C363.2,748.1 363.8,747.6 366.0,745.6 C368.2,743.6 372.3,739.6 375.5,737.2 C378.7,734.8 381.5,733.3 385.1,731.3 C388.7,729.3 393.0,727.1 397.0,725.3 C401.0,723.5 404.5,721.9 408.9,720.6 C413.3,719.3 419.2,718.7 423.2,717.7 C427.2,716.7 429.1,716.1 432.7,714.6 C436.3,713.1 441.0,711.3 444.6,708.7 C448.2,706.1 450.6,703.3 454.2,699.1 C457.8,694.9 461.9,689.6 466.1,683.6 C470.3,677.6 473.4,671.2 479.2,663.4 C484.9,655.5 491.3,647.1 500.6,636.5 C509.9,625.9 529.4,605.7 535.2,599.5" fill="none" stroke="#5555ee" stroke-width="1.3" stroke-linejoin="round" stroke-linecap="round" />
<g fill="#3333dd"><circle cx="358.9" cy="753.9" r="1.5"/><circle cx="362.0" cy="749.5" r="1.5"/><circle cx="366.0" cy="745.6" r="1.5"/><circle cx="375.5" cy="737.2" r="1.5"/><circle cx="385.1" cy="731.3" r="1.5"/><circle cx="397.0" cy="725.3" r="1.5"/><circle cx="408.9" cy="720.6" r="1.5"/><circle cx="423.2" cy="717.7" r="1.5"/><circle cx="432.7" cy="714.6" r="1.5"/><circle cx="444.6" cy="708.7" r="1.5"/><circle cx="454.2" cy="699.1" r="1.5"/><circle cx="466.1" cy="683.6" r="1.5"/><circle cx="479.2" cy="663.4" r="1.5"/><circle cx="500.6" cy="636.5" r="1.5"/><circle cx="535.2" cy="599.5" r="1.5"/></g>
<rect x="774.2" y="565.2" width="467.8" height="382.9" fill="none" stroke="#5a5a5a" stroke-width="2.4"/>
<line x1="766.20" y1="948.10" x2="774.20" y2="948.10" stroke="#5a5a5a" stroke-width="2.2" />
<line x1="774.20" y1="948.10" x2="774.20" y2="956.10" stroke="#5a5a5a" stroke-width="2.2" />
<line x1="770.20" y1="884.28" x2="774.20" y2="884.28" stroke="#5a5a5a" stroke-width="2.2" />
<line x1="852.17" y1="948.10" x2="852.17" y2="952.10" stroke="#5a5a5a" stroke-width="2.2" />
<line x1="766.20" y1="820.47" x2="774.20" y2="820.47" stroke="#5a5a5a" stroke-width="2.2" />
<line x1="930.13" y1="948.10" x2="930.13" y2="956.10" stroke="#5a5a5a" stroke-width="2.2" />
<line x1="770.20" y1="756.65" x2="774.20" y2="756.65" stroke="#5a5a5a" stroke-width="2.2" />
<line x1="1008.10" y1="948.10" x2="1008.10" y2="952.10" stroke="#5a5a5a" stroke-width="2.2" />
<line x1="766.20" y1="692.83" x2="774.20" y2="692.83" stroke="#5a5a5a" stroke-width="2.2" />
<line x1="1086.07" y1="948.10" x2="1086.07" y2="956.10" stroke="#5a5a5a" stroke-width="2.2" />
<line x1="770.20" y1="629.02" x2="774.20" y2="629.02" stroke="#5a5a5a" stroke-width="2.2" />
<line x1="1164.03" y1="948.10" x2="1164.03" y2="952.10" stroke="#5a5a5a" stroke-width="2.2" />
<line x1="766.20" y1="565.20" x2="774.20" y2="565.20" stroke="#5a5a5a" stroke-width="2.2" />
<line x1="1242.00" y1="948.10" x2="1242.00" y2="956.10" stroke="#5a5a5a" stroke-width="2.2" />
<text x="0" y="0" transform="translate(760.60,956.10) scale(1,1.08)" font-size="26" text-anchor="end" fill="#262626" stroke="#262626" stroke-width="0.45" >0</text>
<text x="0" y="0" transform="translate(774.20,982.20) scale(1,1.1)" font-size="26" text-anchor="middle" fill="#262626" stroke="#262626" stroke-width="0.45" >0</text>
<text x="0" y="0" transform="translate(760.60,828.47) scale(1,1.08)" font-size="26" text-anchor="end" fill="#262626" stroke="#262626" stroke-width="0.45" >20000</text>
<text x="0" y="0" transform="translate(930.13,982.20) scale(1,1.1)" font-size="26" text-anchor="middle" fill="#262626" stroke="#262626" stroke-width="0.45" >20000</text>
<text x="0" y="0" transform="translate(760.60,700.83) scale(1,1.08)" font-size="26" text-anchor="end" fill="#262626" stroke="#262626" stroke-width="0.45" >40000</text>
<text x="0" y="0" transform="translate(1086.07,982.20) scale(1,1.1)" font-size="26" text-anchor="middle" fill="#262626" stroke="#262626" stroke-width="0.45" >40000</text>
<text x="0" y="0" transform="translate(760.60,573.20) scale(1,1.08)" font-size="26" text-anchor="end" fill="#262626" stroke="#262626" stroke-width="0.45" >60000</text>
<text x="0" y="0" transform="translate(1242.00,982.20) scale(1,1.1)" font-size="26" text-anchor="middle" fill="#262626" stroke="#262626" stroke-width="0.45" >60000</text>
<text x="0" y="0" transform="translate(1020.90,1013.10)" font-size="35" text-anchor="middle" fill="#1a1a1a" stroke="#1a1a1a" stroke-width="0.45" textLength="78" lengthAdjust="spacingAndGlyphs" >Z'(Ω)</text>
<text x="0" y="0" transform="translate(676.00,722.60) rotate(-90)" font-size="34" text-anchor="middle" fill="#1a1a1a" stroke="#1a1a1a" stroke-width="0.45" textLength="94" lengthAdjust="spacingAndGlyphs" >-Z''(Ω)</text>
<text x="0" y="0" transform="translate(642.30,527.80) scale(0.85,1)" font-size="48.5" text-anchor="middle" fill="#111" stroke="#111" stroke-width="0.45">(</text>
<text x="0" y="0" transform="translate(686.80,527.80) scale(0.85,1)" font-size="48.5" text-anchor="middle" fill="#111" stroke="#111" stroke-width="0.45">)</text>
<text x="0" y="0" transform="translate(663.75,529.20) scale(0.88,1)" font-size="48.5" text-anchor="middle" fill="#111" stroke="#111" stroke-width="0.45">d</text>
<text x="0" y="0" transform="translate(790.70,623.30)" font-size="24" text-anchor="start" fill="#2a2a2a" stroke="#2a2a2a" stroke-width="0.45" textLength="9.4" lengthAdjust="spacingAndGlyphs" >0</text>
<text x="0" y="0" transform="translate(810.80,623.30)" font-size="24" text-anchor="start" fill="#2a2a2a" stroke="#2a2a2a" stroke-width="0.45" textLength="11.9" lengthAdjust="spacingAndGlyphs" >e</text>
<line x1="825.20" y1="613.50" x2="828.80" y2="613.50" stroke="#2a2a2a" stroke-width="2.0" />
<text x="0" y="0" transform="translate(837.80,623.30)" font-size="24" text-anchor="start" fill="#2a2a2a" stroke="#2a2a2a" stroke-width="0.45" textLength="50.8" lengthAdjust="spacingAndGlyphs" >DOD</text>
<line x1="791.30" y1="629.60" x2="914.40" y2="629.60" stroke="#2a2a2a" stroke-width="3" />
<circle cx="849.7" cy="629.6" r="3.4" fill="#2a2a2a"/>
<text x="0" y="0" transform="translate(790.70,662.80)" font-size="24" text-anchor="start" fill="#ee3535" stroke="#ee3535" stroke-width="0.45" textLength="47.7" lengthAdjust="spacingAndGlyphs" >0.64</text>
<text x="0" y="0" transform="translate(846.60,662.80)" font-size="24" text-anchor="start" fill="#ee3535" stroke="#ee3535" stroke-width="0.45" textLength="12.5" lengthAdjust="spacingAndGlyphs" >e</text>
<line x1="862.30" y1="651.90" x2="866.20" y2="651.90" stroke="#ee3535" stroke-width="2.0" />
<text x="0" y="0" transform="translate(876.70,662.80)" font-size="24" text-anchor="start" fill="#ee3535" stroke="#ee3535" stroke-width="0.45" textLength="48.4" lengthAdjust="spacingAndGlyphs" >DOD</text>
<line x1="791.30" y1="669.80" x2="914.40" y2="669.80" stroke="#ee3535" stroke-width="3" />
<circle cx="849.7" cy="669.8" r="3.4" fill="#ee3535"/>
<text x="0" y="0" transform="translate(791.90,703.70)" font-size="24" text-anchor="start" fill="#3535dd" stroke="#3535dd" stroke-width="0.45" textLength="46.5" lengthAdjust="spacingAndGlyphs" >1.44</text>
<text x="0" y="0" transform="translate(846.60,703.70)" font-size="24" text-anchor="start" fill="#3535dd" stroke="#3535dd" stroke-width="0.45" textLength="12.5" lengthAdjust="spacingAndGlyphs" >e</text>
<line x1="862.30" y1="690.80" x2="866.20" y2="690.80" stroke="#3535dd" stroke-width="2.0" />
<text x="0" y="0" transform="translate(876.70,703.70)" font-size="24" text-anchor="start" fill="#3535dd" stroke="#3535dd" stroke-width="0.45" textLength="48.4" lengthAdjust="spacingAndGlyphs" >DOD</text>
<line x1="791.30" y1="710.00" x2="914.40" y2="710.00" stroke="#3535dd" stroke-width="3" />
<circle cx="849.7" cy="710.0" r="3.4" fill="#3535dd"/>
<path d="M774.2,948.1 C774.5,947.7 775.3,946.0 776.0,945.5 C776.7,945.0 777.7,944.9 778.5,945.2 C779.3,945.5 780.6,947.1 781.0,947.5" fill="none" stroke="#ff2020" stroke-width="3.5" stroke-linejoin="round" stroke-linecap="round" />
<polyline points="774.2,948.1 775.5,944.5 777.0,941.8 780.0,936.9 783.8,932.0 788.2,926.8 793.1,921.1 799.9,913.6 807.8,905.0 819.4,893.0 835.1,878.8 858.0,862.2 887.2,845.0 927.0,830.0 973.1,818.8 1023.0,815.8 1074.0,820.6 1117.5,833.0 1153.1,849.5 1179.4,866.4 1198.1,881.8 1211.2,894.9" fill="none" stroke="#2a2aee" stroke-width="1.8" stroke-linejoin="round" stroke-linecap="round" />
<g fill="#1515e0"><circle cx="775.5" cy="944.5" r="2.7"/><circle cx="777.0" cy="941.8" r="2.7"/><circle cx="780.0" cy="936.9" r="2.7"/><circle cx="783.8" cy="932.0" r="2.7"/><circle cx="788.2" cy="926.8" r="2.7"/><circle cx="793.1" cy="921.1" r="2.7"/><circle cx="799.9" cy="913.6" r="2.7"/><circle cx="807.8" cy="905.0" r="2.7"/><circle cx="819.4" cy="893.0" r="2.7"/><circle cx="835.1" cy="878.8" r="2.7"/><circle cx="858.0" cy="862.2" r="2.7"/><circle cx="887.2" cy="845.0" r="2.7"/><circle cx="927.0" cy="830.0" r="2.7"/><circle cx="973.1" cy="818.8" r="2.7"/><circle cx="1023.0" cy="815.8" r="2.7"/><circle cx="1074.0" cy="820.6" r="2.7"/><circle cx="1117.5" cy="833.0" r="2.7"/><circle cx="1153.1" cy="849.5" r="2.7"/><circle cx="1179.4" cy="866.4" r="2.7"/><circle cx="1198.1" cy="881.8" r="2.7"/><circle cx="1211.2" cy="894.9" r="2.7"/></g>
<rect x="1026.4" y="598.2" width="172.6" height="140.4" fill="none" stroke="#a8a8a8" stroke-width="1.8"/>
<line x1="1026.40" y1="703.50" x2="1028.90" y2="703.50" stroke="#a8a8a8" stroke-width="1.3" />
<line x1="1069.55" y1="738.60" x2="1069.55" y2="736.10" stroke="#a8a8a8" stroke-width="1.3" />
<line x1="1026.40" y1="668.40" x2="1030.40" y2="668.40" stroke="#a8a8a8" stroke-width="1.3" />
<line x1="1112.70" y1="738.60" x2="1112.70" y2="734.60" stroke="#a8a8a8" stroke-width="1.3" />
<line x1="1026.40" y1="633.30" x2="1028.90" y2="633.30" stroke="#a8a8a8" stroke-width="1.3" />
<line x1="1155.85" y1="738.60" x2="1155.85" y2="736.10" stroke="#a8a8a8" stroke-width="1.3" />
<text x="0" y="0" transform="translate(1022.40,603.40)" font-size="18" text-anchor="end" fill="#505050" font-weight="bold" textLength="35.6" lengthAdjust="spacingAndGlyphs" >1200</text>
<text x="0" y="0" transform="translate(1022.40,675.20)" font-size="18" text-anchor="end" fill="#505050" font-weight="bold" textLength="28" lengthAdjust="spacingAndGlyphs" >600</text>
<text x="0" y="0" transform="translate(1022.00,744.20)" font-size="18" text-anchor="end" fill="#505050" font-weight="bold" >0</text>
<text x="0" y="0" transform="translate(1026.50,757.50)" font-size="18" text-anchor="middle" fill="#505050" font-weight="bold" >0</text>
<text x="0" y="0" transform="translate(1112.30,757.50)" font-size="18" text-anchor="middle" fill="#505050" font-weight="bold" textLength="27" lengthAdjust="spacingAndGlyphs" >600</text>
<text x="0" y="0" transform="translate(1199.00,757.50)" font-size="18" text-anchor="middle" fill="#505050" font-weight="bold" textLength="35" lengthAdjust="spacingAndGlyphs" >1200</text>
<text x="0" y="0" transform="translate(1111.40,772.80)" font-size="18" text-anchor="middle" fill="#505050" font-weight="bold" textLength="43.2" lengthAdjust="spacingAndGlyphs" >Z'(Ω)</text>
<text x="0" y="0" transform="translate(988.20,660.20) rotate(-90)" font-size="19" text-anchor="middle" fill="#505050" font-weight="bold" textLength="55" lengthAdjust="spacingAndGlyphs" >-Z''(Ω)</text>
<path d="M1026.4,738.6 C1027.3,737.3 1029.7,733.5 1032.0,731.0 C1034.3,728.5 1037.5,725.4 1040.2,723.4 C1042.9,721.4 1045.2,720.4 1048.0,719.0 C1050.8,717.6 1053.4,716.7 1057.0,715.0 C1060.6,713.3 1065.1,710.3 1069.7,708.7 C1074.3,707.1 1079.7,706.0 1084.4,705.3 C1089.2,704.6 1093.6,704.3 1098.2,704.4 C1102.8,704.5 1107.9,705.2 1111.9,706.0 C1115.9,706.8 1118.5,707.6 1122.4,709.1 C1126.3,710.6 1131.2,712.6 1135.1,715.0 C1139.0,717.4 1142.4,720.2 1145.6,723.4 C1148.8,726.6 1151.7,731.7 1154.0,734.0 C1156.3,736.3 1157.9,737.0 1159.3,737.3 C1160.7,737.6 1162.0,736.2 1162.5,736.0" fill="none" stroke="#ee4444" stroke-width="1.5" stroke-linejoin="round" stroke-linecap="round" />
<g fill="#ee3333"><circle cx="1026.4" cy="738.6" r="1.5"/><circle cx="1032.0" cy="731.0" r="1.5"/><circle cx="1040.2" cy="723.4" r="1.5"/><circle cx="1048.0" cy="719.0" r="1.5"/><circle cx="1057.0" cy="715.0" r="1.5"/><circle cx="1069.7" cy="708.7" r="1.5"/><circle cx="1084.4" cy="705.3" r="1.5"/><circle cx="1098.2" cy="704.4" r="1.5"/><circle cx="1111.9" cy="706.0" r="1.5"/><circle cx="1122.4" cy="709.1" r="1.5"/><circle cx="1135.1" cy="715.0" r="1.5"/><circle cx="1145.6" cy="723.4" r="1.5"/><circle cx="1154.0" cy="734.0" r="1.5"/><circle cx="1159.3" cy="737.3" r="1.5"/><circle cx="1162.5" cy="736.0" r="1.5"/></g>
<path d="M1026.4,738.4 C1027.6,737.1 1030.8,733.3 1033.8,730.8 C1036.8,728.3 1040.9,725.3 1044.4,723.4 C1047.9,721.5 1051.4,720.2 1054.9,719.2 C1058.4,718.2 1062.0,717.5 1065.5,717.5 C1069.0,717.5 1072.5,717.9 1076.0,719.2 C1079.5,720.5 1083.1,723.2 1086.6,725.5 C1090.1,727.8 1093.9,731.0 1097.1,732.9 C1100.2,734.8 1104.1,736.4 1105.5,737.1" fill="none" stroke="#222" stroke-width="1.6" stroke-linejoin="round" stroke-linecap="round" />
<g fill="#111"><circle cx="1026.4" cy="738.4" r="1.4"/><circle cx="1033.8" cy="730.8" r="1.4"/><circle cx="1044.4" cy="723.4" r="1.4"/><circle cx="1054.9" cy="719.2" r="1.4"/><circle cx="1065.5" cy="717.5" r="1.4"/><circle cx="1076.0" cy="719.2" r="1.4"/><circle cx="1086.6" cy="725.5" r="1.4"/><circle cx="1097.1" cy="732.9" r="1.4"/><circle cx="1105.5" cy="737.1" r="1.4"/></g>
<path d="M1032.8,738.2 C1033.6,736.8 1035.9,732.5 1037.5,730.0 C1039.1,727.5 1040.8,725.9 1042.3,723.4 C1043.8,720.9 1045.3,718.2 1046.5,715.0 C1047.7,711.8 1048.5,707.5 1049.5,704.0 C1050.5,700.5 1051.0,698.9 1052.8,693.9 C1054.6,688.9 1057.4,681.4 1060.2,673.9 C1063.0,666.4 1065.7,658.6 1069.7,648.6 C1073.7,638.6 1080.5,622.2 1084.4,613.7 C1088.3,605.2 1091.5,600.5 1092.9,597.9" fill="none" stroke="#5555ee" stroke-width="1.3" stroke-linejoin="round" stroke-linecap="round" />
<g fill="#3333dd"><circle cx="1032.8" cy="738.2" r="1.5"/><circle cx="1037.5" cy="730.0" r="1.5"/><circle cx="1042.3" cy="723.4" r="1.5"/><circle cx="1046.5" cy="715.0" r="1.5"/><circle cx="1049.5" cy="704.0" r="1.5"/><circle cx="1052.8" cy="693.9" r="1.5"/><circle cx="1060.2" cy="673.9" r="1.5"/><circle cx="1069.7" cy="648.6" r="1.5"/><circle cx="1084.4" cy="613.7" r="1.5"/><circle cx="1092.9" cy="597.9" r="1.5"/></g>
</svg></body></html>
